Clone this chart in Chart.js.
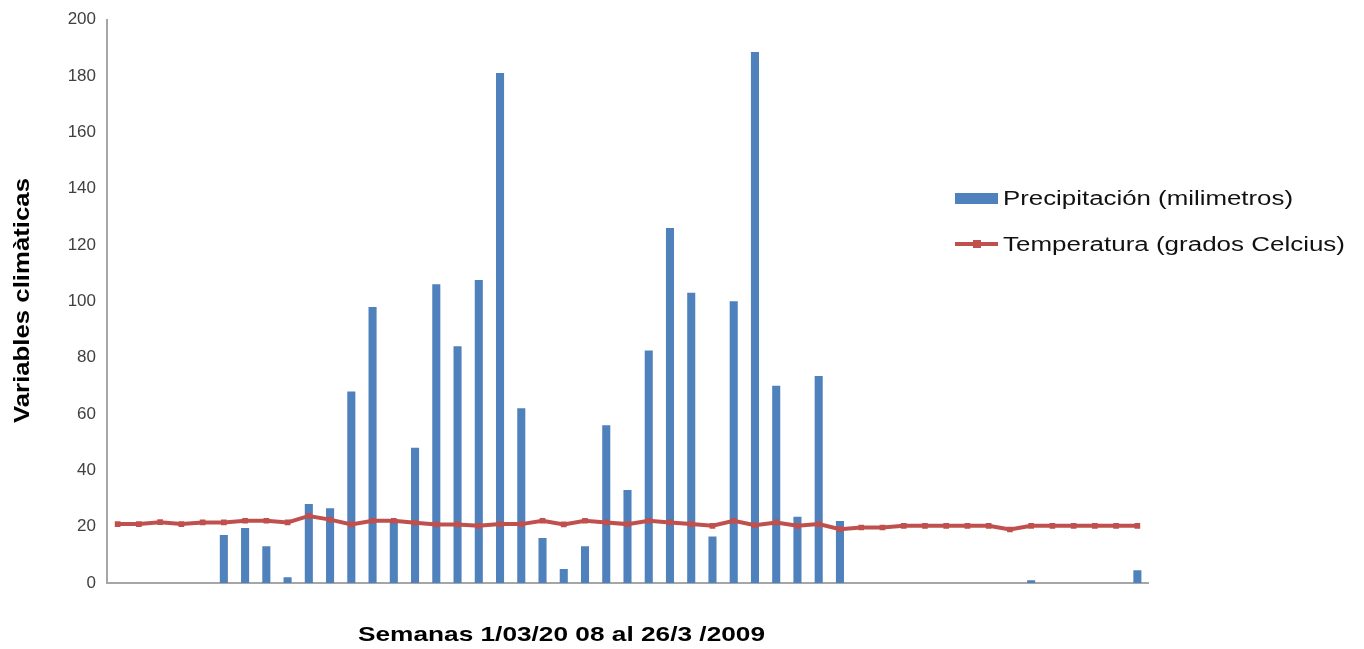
<!DOCTYPE html>
<html>
<head>
<meta charset="utf-8">
<script src="https://cdn.jsdelivr.net/npm/chart.js@4.4.0/dist/chart.umd.min.js"></script>
<style>
html,body{margin:0;padding:0;background:#fff;}
#wrap{width:1364px;height:649px;position:relative;}
</style>
</head>
<body>
<div id="wrap"><canvas id="c" width="1364" height="649"></canvas></div>
<script>
const weeks = Array.from({length: 49}, (_, i) => 'Semana ' + (i + 1));
const precipitacion = [0,0,0,0,0,17,19.5,13,2,28,26.5,68,98,22,48,106,84,107.5,181,62,16,5,13,56,33,82.5,126,103,16.5,100,188.5,70,23.5,73.5,22,0,0,0,0,0,0,0,0,1,0,0,0,0,4.5];
const temperatura = [20.9,20.9,21.6,20.9,21.5,21.5,22.1,22.1,21.5,23.8,22.5,20.8,22.1,22.1,21.4,20.8,20.8,20.3,20.9,20.9,22.1,20.8,22.1,21.5,20.9,22.1,21.5,20.9,20.3,22.1,20.5,21.5,20.3,20.9,19.1,19.7,19.7,20.3,20.3,20.3,20.3,20.3,19.0,20.3,20.3,20.3,20.3,20.3,20.3];
const yTicks = [0,20,40,60,80,100,120,140,160,180,200];
const seriesNames = ['Precipitación (milimetros)', 'Temperatura (grados Celcius)'];
const yTitle = 'Variables climàticas';
const xTitle = 'Semanas 1/03/20 08 al 26/3 /2009';

const BLUE = '#4f81bd';
const RED = '#c0504d';

function fitText(ctx, text, x, y, targetW, font) {
  ctx.font = font;
  const w = ctx.measureText(text).width;
  const s = targetW / w;
  ctx.save();
  ctx.translate(x, y);
  ctx.scale(s, 1);
  ctx.fillText(text, 0, 0);
  ctx.restore();
}

const decor = {
  id: 'decor',
  afterDraw(chart) {
    const ctx = chart.ctx;
    ctx.save();
    ctx.textBaseline = 'middle';
    ctx.textAlign = 'left';
    // legend
    ctx.fillStyle = BLUE;
    ctx.fillRect(955, 193, 43, 11);
    ctx.fillStyle = '#111';
    fitText(ctx, seriesNames[0], 1003, 199, 290, '20px "Liberation Sans", Arial, sans-serif');
    ctx.strokeStyle = RED;
    ctx.lineWidth = 4;
    ctx.beginPath();
    ctx.moveTo(955, 244);
    ctx.lineTo(998, 244);
    ctx.stroke();
    ctx.fillStyle = RED;
    ctx.fillRect(973, 240, 8, 8);
    ctx.fillStyle = '#111';
    fitText(ctx, seriesNames[1], 1003, 245, 342, '20px "Liberation Sans", Arial, sans-serif');
    // x title
    ctx.fillStyle = '#000';
    fitText(ctx, xTitle, 358, 635, 407, 'bold 21px "Liberation Sans", Arial, sans-serif');
    // y title
    ctx.save();
    ctx.translate(23, 423);
    ctx.rotate(-Math.PI / 2);
    fitText(ctx, yTitle, 0, 0, 245, 'bold 22px "Liberation Sans", Arial, sans-serif');
    ctx.restore();
    ctx.restore();
  }
};

new Chart(document.getElementById('c'), {
  type: 'bar',
  data: {
    labels: weeks,
    datasets: [
      {
        type: 'line',
        label: seriesNames[1],
        data: temperatura,
        borderColor: RED,
        backgroundColor: RED,
        borderWidth: 4,
        pointStyle: 'rect',
        pointRadius: 4,
        pointBorderWidth: 0,
        pointBackgroundColor: RED,
        tension: 0,
        order: 0
      },
      {
        type: 'bar',
        label: seriesNames[0],
        data: precipitacion,
        backgroundColor: BLUE,
        borderWidth: 0,
        barPercentage: 0.38,
        categoryPercentage: 1,
        order: 1
      }
    ]
  },
  options: {
    responsive: false,
    animation: false,
    devicePixelRatio: 1,
    layout: { padding: { top: 18, right: 216, left: 0, bottom: 0 } },
    plugins: { legend: { display: false }, tooltip: { enabled: false } },
    scales: {
      x: {
        grid: { display: false, drawTicks: false },
        border: { display: true, color: '#a6a6a6', width: 2 },
        ticks: { display: false },
        afterFit(scale) { scale.height = 66; }
      },
      y: {
        min: 0,
        max: 200,
        afterBuildTicks(scale) { scale.ticks = yTicks.map(v => ({ value: v })); },
        grid: { display: false, drawTicks: false },
        border: { display: true, color: '#a6a6a6', width: 2 },
        ticks: {
          color: '#404040',
          padding: 11,
          font: { family: '"Liberation Sans", Arial, sans-serif', size: 17, lineHeight: 1 }
        },
        afterFit(scale) { scale.width = 107; }
      }
    }
  },
  plugins: [decor]
});
</script>
</body>
</html>
